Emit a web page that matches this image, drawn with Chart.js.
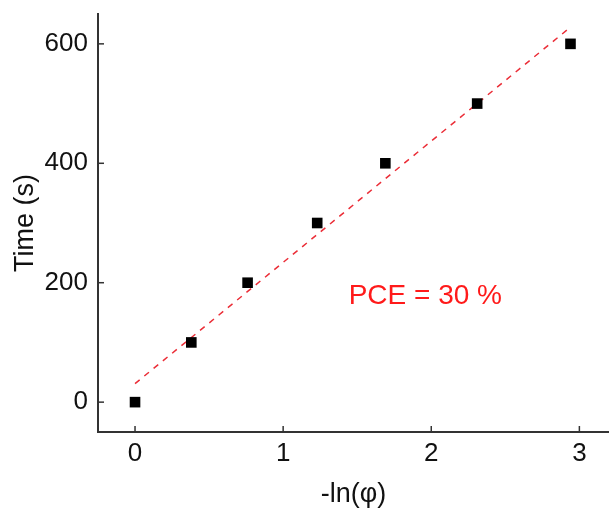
<!DOCTYPE html>
<html>
<head>
<meta charset="utf-8">
<script src="https://cdn.jsdelivr.net/npm/chart.js@4/dist/chart.umd.min.js"></script>
<style>
  html, body { margin: 0; padding: 0; background: #fff; }
  #wrap { width: 609px; height: 508px; }
</style>
</head>
<body>
<div id="wrap"><canvas id="chart"></canvas></div>
<script>
// measured points: -ln(phi) vs time
const lnPhi = [0, 0.38, 0.76, 1.23, 1.69, 2.31, 2.94];
const timeS = [0, 100, 200, 300, 400, 500, 600];

// linear fit (dashed red) end points
const fitX = [0, 2.94];
const fitY = [31, 628];

const xTicks = [0, 1, 2, 3];
const yTicks = [0, 200, 400, 600];

const pceLabel = "PCE = 30 %";
const pceAt = {x: 1.96, y: 177};

const font = "'Liberation Sans', Arial, sans-serif";

// ticks pointing into the plot, plus the PCE text
const extras = {
  id: "extras",
  afterDatasetsDraw(chart) {
    const {ctx, scales: {x, y}} = chart;
    ctx.save();
    ctx.strokeStyle = "#333";
    ctx.lineWidth = 1.5;
    xTicks.forEach(v => {
      const px = x.getPixelForValue(v);
      ctx.beginPath();
      ctx.moveTo(px, y.bottom);
      ctx.lineTo(px, y.bottom - 6);
      ctx.stroke();
    });
    yTicks.forEach(v => {
      const py = y.getPixelForValue(v);
      ctx.beginPath();
      ctx.moveTo(x.left, py);
      ctx.lineTo(x.left + 6, py);
      ctx.stroke();
    });
    ctx.fillStyle = "#ff1a1a";
    ctx.font = "28px " + font;
    ctx.textAlign = "center";
    ctx.textBaseline = "middle";
    ctx.fillText(pceLabel, x.getPixelForValue(pceAt.x), y.getPixelForValue(pceAt.y));
    ctx.restore();
  }
};

new Chart(document.getElementById("chart"), {
  type: "scatter",
  data: {
    datasets: [
      {
        label: "fit",
        data: fitX.map((v, i) => ({x: v, y: fitY[i]})),
        showLine: true,
        borderColor: "rgb(235,45,55)",
        borderWidth: 1.5,
        borderDash: [6, 6],
        pointRadius: 0,
        fill: false,
        order: 2,
      },
      {
        label: "data",
        data: lnPhi.map((v, i) => ({x: v, y: timeS[i]})),
        pointStyle: "rect",
        pointRadius: 7.5,
        backgroundColor: "#000",
        borderWidth: 0,
        order: 1,
      },
    ],
  },
  options: {
    responsive: true,
    maintainAspectRatio: false,
    animation: false,
    layout: {autoPadding: false, padding: {top: 14, right: 0, bottom: 0, left: 0}},
    plugins: {legend: {display: false}, tooltip: {enabled: false}},
    scales: {
      x: {
        type: "linear",
        min: -0.25,
        max: 3.2,
        afterBuildTicks: s => { s.ticks = xTicks.map(v => ({value: v})); },
        afterFit: s => { s.height = 76; s.paddingLeft = 0; s.paddingRight = 0; },
        grid: {display: false, drawTicks: false},
        border: {display: true, color: "#333", width: 2},
        ticks: {color: "#111", font: {family: font, size: 26}, padding: 6},
        title: {
          display: true,
          text: "-ln(φ)",
          color: "#111",
          font: {family: font, size: 27, lineHeight: 1},
          padding: {top: 0, bottom: 0},
        },
      },
      y: {
        type: "linear",
        min: -50,
        max: 650,
        afterBuildTicks: s => { s.ticks = yTicks.map(v => ({value: v})); },
        afterFit: s => { s.width = 98; s.paddingTop = 0; s.paddingBottom = 0; },
        grid: {display: false, drawTicks: false},
        border: {display: true, color: "#333", width: 2},
        ticks: {color: "#111", font: {family: font, size: 26}, padding: 10},
        title: {
          display: true,
          text: "Time (s)",
          color: "#111",
          font: {family: font, size: 27, lineHeight: 1.2},
          padding: {top: 9, bottom: 0},
        },
      },
    },
  },
  plugins: [extras],
});
</script>
</body>
</html>
